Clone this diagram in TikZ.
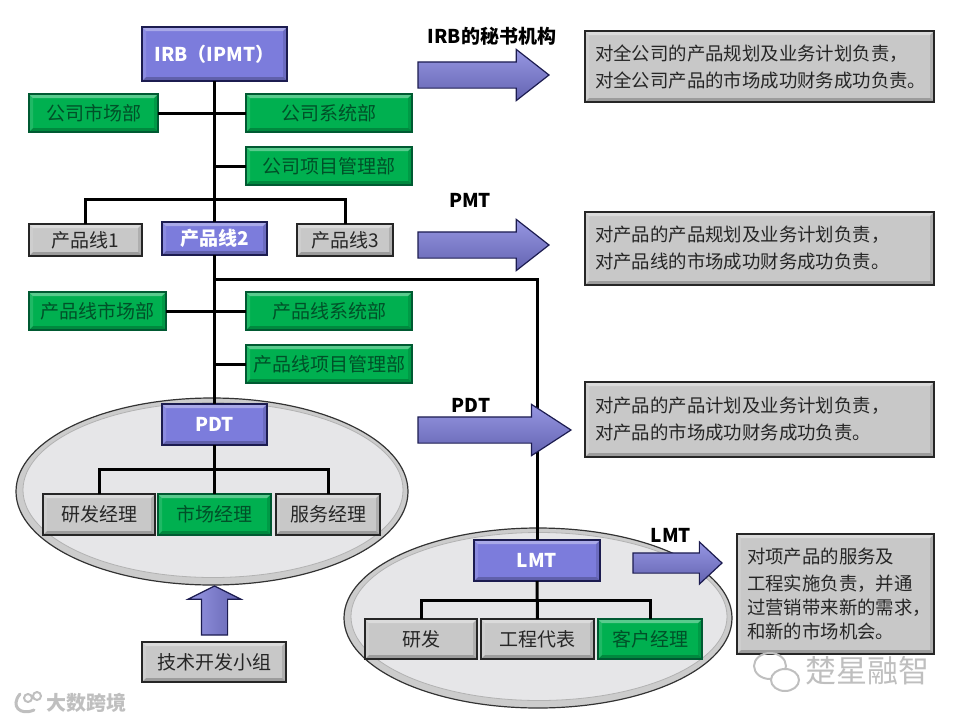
\documentclass[tikz,border=0pt]{standalone}
\usepackage{fontspec}
\setmainfont{Noto Sans CJK SC}
\usepackage{tikz}
\usetikzlibrary{positioning,shapes.geometric,shapes.arrows,calc}
\usepackage{xcolor}
\definecolor{boxpurple}{RGB}{124,124,220}
\definecolor{edgepurple}{RGB}{28,28,80}
\definecolor{boxgreen}{RGB}{0,176,80}
\definecolor{edgegreen}{RGB}{0,90,50}
\definecolor{textgreen}{RGB}{0,80,40}
\definecolor{boxgray}{RGB}{200,200,200}
\definecolor{ovalgray}{RGB}{230,230,232}

\begin{document}
\begin{tikzpicture}[
    x=1pt, y=-1pt,
    bevel/.style={path picture={
        \fill[white, opacity=.35] (path picture bounding box.north west) -- (path picture bounding box.north east)
            -- ([shift={(-#1,-#1)}]path picture bounding box.north east) -- ([shift={(#1,-#1)}]path picture bounding box.north west) -- cycle;
        \fill[black, opacity=.22] (path picture bounding box.south west) -- (path picture bounding box.south east)
            -- ([shift={(-#1,#1)}]path picture bounding box.south east) -- ([shift={(#1,#1)}]path picture bounding box.south west) -- cycle;
        \fill[white, opacity=.12] (path picture bounding box.north west) -- (path picture bounding box.south west)
            -- ([shift={(#1,#1)}]path picture bounding box.south west) -- ([shift={(#1,-#1)}]path picture bounding box.north west) -- cycle;
        \fill[black, opacity=.12] (path picture bounding box.north east) -- (path picture bounding box.south east)
            -- ([shift={(-#1,#1)}]path picture bounding box.south east) -- ([shift={(-#1,-#1)}]path picture bounding box.north east) -- cycle;
    }},
    every node/.style={rectangle, inner sep=0pt, outer sep=0pt, align=center, font=\fontsize{19}{22}\selectfont},
    purplebox/.style={fill=boxpurple, draw=edgepurple, line width=1.5pt, text=white, bevel=4pt, font=\fontsize{19}{22}\selectfont\bfseries},
    greenbox/.style={fill=boxgreen, draw=edgegreen, line width=1.5pt, text=textgreen, bevel=4pt},
    graybox/.style={fill=boxgray, draw=black!85, line width=1.5pt, text=black!85, bevel=4pt},
    notebox/.style={graybox, text width=#1, inner xsep=10pt, align=left, font=\fontsize{18.4}{27}\selectfont},
    oval/.style={ellipse, fill=black!20, draw=black!80, line width=1.2pt},
    ovalin/.style={ellipse, fill=ovalgray, draw=black!30, line width=.8pt},
    blockarrow/.style={single arrow, anchor=tail, shape border rotate=0, single arrow tip angle=#1, single arrow head extend=12.5pt,
        inner xsep=0pt, inner ysep=12.5pt, top color=boxpurple!80!white, bottom color=boxpurple!80!black, draw=edgepurple, line width=1.2pt},
    tag/.style={font=\fontsize{19}{22}\selectfont\bfseries},
    link/.style={draw=black, line width=3pt},
    mark/.style={text=black!25, font=\fontsize{#1}{#1}\selectfont}
]
    \useasboundingbox (0,0) rectangle (960,720);

    % ovals go first, the boxes sit on them
    \node [oval, minimum width=392pt, minimum height=187pt] (pdtoval) at (212,491.5) {};
    \node [ovalin, minimum width=380pt, minimum height=175pt] (pdtovalin) at (213,490) {};
    \node [oval, minimum width=388pt, minimum height=180pt] (lmtoval) at (538,618) {};
    \node [ovalin, minimum width=376pt, minimum height=168pt] (lmtovalin) at (539,616.5) {};

    % top level
    \node [purplebox, minimum width=145pt, minimum height=54pt] (irb) at (214.5,54) {IRB（IPMT）};
    \node [greenbox, minimum width=129pt, minimum height=38pt] (corpmkt) at (93.5,113) {公司市场部};
    \node [greenbox, minimum width=166pt, minimum height=38pt] (corpsys) at (329,113) {公司系统部};
    \node [greenbox, minimum width=166pt, minimum height=38pt] (corppm) at (329,166) {公司项目管理部};

    % product lines
    \node [graybox, minimum width=113pt, minimum height=32pt] (lineone) at (85.5,240) {产品线1};
    \node [purplebox, minimum width=105pt, minimum height=33pt] (linetwo) at (214.5,238.5) {产品线2};
    \node [graybox, minimum width=96pt, minimum height=32pt] (linethree) at (345,240) {产品线3};
    \node [greenbox, minimum width=137pt, minimum height=38pt] (linemkt) at (97.5,311) {产品线市场部};
    \node [greenbox, minimum width=166pt, minimum height=38pt] (linesys) at (329,311) {产品线系统部};
    \node [greenbox, minimum width=166pt, minimum height=38pt] (linepm) at (329,364) {产品线项目管理部};

    % PDT group
    \node [purplebox, minimum width=105pt, minimum height=41pt] (pdt) at (214.5,424.5) {PDT};
    \node [graybox, minimum width=112pt, minimum height=41pt] (pdtrd) at (99,514.5) {研发经理};
    \node [greenbox, minimum width=113pt, minimum height=41pt] (pdtmkt) at (214.5,514.5) {市场经理};
    \node [graybox, minimum width=104pt, minimum height=41pt] (pdtsvc) at (328,514.5) {服务经理};
    \node [graybox, minimum width=144pt, minimum height=40pt] (techdev) at (214,662) {技术开发小组};
    \node [blockarrow=127, shape border rotate=90, inner xsep=12.5pt, inner ysep=0pt, single arrow head extend=13.5pt, minimum height=49pt,
        left color=boxpurple!80!white, right color=boxpurple!80!black] (techarrow) at (214.5,635) {};

    % LMT group
    \node [purplebox, minimum width=126pt, minimum height=41pt] (lmt) at (537,560.5) {LMT};
    \node [graybox, minimum width=112pt, minimum height=40pt] (lmtrd) at (421,639) {研发};
    \node [graybox, minimum width=113pt, minimum height=40pt] (lmtrep) at (537.5,639) {工程代表};
    \node [greenbox, minimum width=104pt, minimum height=40pt] (lmtcust) at (650,639) {客户经理};

    % connectors
    \coordinate (linebus) at (214.5,199);
    \coordinate (lmtturn) at (214.5,279);
    \coordinate (pdtbus) at (214.5,469);
    \coordinate (lmtbus) at (537,600);
    \draw [link] (irb.south) -- (linetwo.north);
    \draw [link] (linetwo.south) -- (pdt.north);
    \draw [link] (corpmkt.east) -- (corpsys.west);
    \draw [link] (corppm.west) -- (corppm.west -| irb.south);
    \draw [link] (lineone.north) |- (linebus) -| (linethree.north);
    \draw [link] (lmtturn) -| (lmt.north);
    \draw [link] (linemkt.east) -- (linesys.west);
    \draw [link] (linepm.west) -- (linepm.west -| pdt.north);
    \draw [link] (pdt.south) -- (pdtmkt.north);
    \draw [link] (pdtrd.north) |- (pdtbus) -| (pdtsvc.north);
    \draw [link] (lmt.south) -- (lmtrep.north);
    \draw [link] (lmtrd.north) |- (lmtbus) -| (lmtcust.north);

    % arrows to the notes, with their tags
    \node [blockarrow=76, minimum height=131pt] (irbarrow) at (418,75) {};
    \node [blockarrow=76, minimum height=131pt] (pmtarrow) at (418,245) {};
    \node [blockarrow=66, minimum height=153pt] (pdtarrow) at (418,430) {};
    \node [blockarrow=86, minimum height=89pt, inner ysep=9.5pt, single arrow head extend=11pt] (lmtarrow) at (633,563) {};
    \node [tag] (irbtag) at (492,36) {IRB的秘书机构};
    \node [tag] (pmttag) at (470,200) {PMT};
    \node [tag] (pdttag) at (471,405) {PDT};
    \node [tag] (lmttag) at (671,535) {LMT};

    \node [notebox=329pt, minimum height=71pt] (irbnote) at (759.5,66.5) {对全公司的产品规划及业务计划负责，\\对全公司产品的市场成功财务成功负责。};
    \node [notebox=329pt, minimum height=73pt] (pmtnote) at (759.5,248.5) {对产品的产品规划及业务计划负责，\\对产品线的市场成功财务成功负责。};
    \node [notebox=329pt, minimum height=75pt] (pdtnote) at (759.5,419.5) {对产品的产品计划及业务计划负责，\\对产品的市场成功财务成功负责。};
    \node [notebox=177pt, minimum height=120pt, font=\fontsize{18.4}{24}\selectfont] (lmtnote) at (835.5,594) {对项产品的服务及\\[3pt]工程实施负责，并通\\过营销带来新的需求，\\和新的市场机会。};

    % watermarks
    \draw [black!25, line width=2pt] (770,666) ellipse (16 and 13);
    \draw [black!25, line width=2pt, fill=white] (785,680) ellipse (14 and 11);
    \node [mark=31] (chumark) at (867,671) {楚星融智};
    \draw [black!25, line width=3pt, line cap=round] (20,694) .. controls (10,706) and (20,716) .. (34,710);
    \draw [black!25, line width=2pt] (28,698) circle (4) (37,696) circle (4);
    \node [mark=20, font=\fontsize{20}{20}\selectfont\bfseries] (kuamark) at (86,703) {大数跨境};
\end{tikzpicture}
\end{document}
